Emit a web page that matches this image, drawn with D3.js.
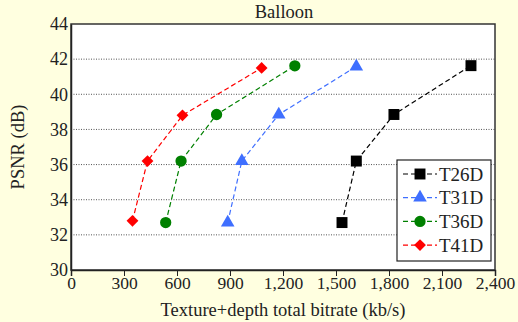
<!doctype html>
<html lang="en">
<head>
<meta charset="UTF-8">
<title>Balloon</title>
<script src="https://d3js.org/d3.v7.min.js"></script>
<style>
  body { margin: 0; background: #ffffe0; }
  svg { display: block; }
  .grid line { stroke: #555; stroke-dasharray: 1 1.5; }
</style>
</head>
<body>
<svg width="518" height="322"></svg>
<script>
  const series = ['T26D', 'T31D', 'T36D', 'T41D'];
  const colors = ['#000000', '#3f6fff', '#008000', '#ff0000'];
  const markers = [d3.symbolSquare, d3.symbolTriangle, d3.symbolCircle, d3.symbolSquare];
  const bitrate = [
    [1534, 1615, 1828, 2264],
    [887, 967, 1176, 1615],
    [536, 623, 824, 1267],
    [348, 433, 631, 1079]
  ];
  const psnr = [
    [32.7, 36.2, 38.85, 41.63],
    [32.7, 36.2, 38.85, 41.58],
    [32.7, 36.2, 38.85, 41.62],
    [32.8, 36.2, 38.8, 41.5]
  ];
  const xTicks = [0, 300, 600, 900, 1200, 1500, 1800, 2100, 2400];
  const yTicks = [30, 32, 34, 36, 38, 40, 42, 44];

  const serif = '"Liberation Serif", "Times New Roman", serif';
  const svg = d3.select('svg');
  const plotL = 71, plotR = 495, plotT = 24, plotB = 270;

  const x = d3.scaleLinear().domain([0, 2400]).range([plotL, plotR]);
  const y = d3.scaleLinear().domain([30, 44]).range([plotB, plotT]);

  svg.append('rect')
    .attr('x', plotL).attr('y', plotT)
    .attr('width', plotR - plotL).attr('height', plotB - plotT)
    .attr('fill', '#fff');

  // dotted grid
  svg.append('g').attr('class', 'grid')
    .selectAll('line')
    .data(yTicks.filter(t => t > 30 && t < 44))
    .enter().append('line')
    .attr('x1', plotL).attr('x2', plotR)
    .attr('y1', d => y(d)).attr('y2', d => y(d));

  // frame
  svg.append('rect')
    .attr('x', plotL).attr('y', plotT)
    .attr('width', plotR - plotL).attr('height', plotB - plotT)
    .attr('fill', 'none').attr('stroke', '#333').attr('stroke-width', 1.5);

  const xAxis = svg.append('g')
    .attr('transform', `translate(0, ${plotB})`)
    .call(d3.axisBottom(x).tickValues(xTicks).tickSize(6).tickPadding(1)
      .tickFormat(d3.format(',')));
  xAxis.attr('font-family', serif).attr('font-size', 17.5);
  xAxis.select('.domain').attr('stroke', '#222').attr('stroke-width', 1.5);
  xAxis.selectAll('line').attr('stroke', '#222');
  xAxis.selectAll('text').attr('fill', '#222');

  const yAxis = svg.append('g')
    .attr('transform', `translate(${plotL}, 0)`)
    .call(d3.axisLeft(y).tickValues(yTicks).tickSize(0).tickPadding(3));
  yAxis.attr('font-family', serif).attr('font-size', 18);
  yAxis.select('.domain').attr('stroke', '#222').attr('stroke-width', 1.5);
  yAxis.selectAll('text').attr('fill', '#222');

  svg.append('text')
    .attr('x', (plotL + plotR) / 2 + 1).attr('y', 18)
    .attr('text-anchor', 'middle').attr('font-size', 18.5)
    .attr('font-family', serif).attr('fill', '#222')
    .text('Balloon');

  svg.append('text')
    .attr('x', (plotL + plotR) / 2).attr('y', 316)
    .attr('text-anchor', 'middle').attr('font-size', 18.5)
    .attr('font-family', serif).attr('fill', '#222')
    .text('Texture+depth total bitrate (kb/s)');

  svg.append('text')
    .attr('transform', `translate(24, ${(plotT + plotB) / 2}) rotate(-90)`)
    .attr('text-anchor', 'middle').attr('font-size', 18.5)
    .attr('font-family', serif).attr('fill', '#222')
    .text('PSNR (dB)');

  const line = d3.line().x(d => x(d[0])).y(d => y(d[1]));
  const sizes = [120, 80, 100, 70];
  const rot = [0, 0, 0, 45];

  series.forEach((name, i) => {
    const pts = bitrate[i].map((b, j) => [b, psnr[i][j]]);
    svg.append('path')
      .datum(pts)
      .attr('d', line)
      .attr('fill', 'none')
      .attr('stroke', colors[i])
      .attr('stroke-width', 1.2)
      .attr('stroke-dasharray', '5 3');
    svg.append('g').selectAll('path')
      .data(pts)
      .enter().append('path')
      .attr('transform', d => `translate(${x(d[0])}, ${y(d[1])}) rotate(${rot[i]})`)
      .attr('d', d3.symbol().type(markers[i]).size(sizes[i]))
      .attr('fill', colors[i]);
  });

  // legend
  const lg = svg.append('g');
  lg.append('rect')
    .attr('x', 397).attr('y', 160).attr('width', 94).attr('height', 101)
    .attr('fill', '#fff').attr('stroke', '#222').attr('stroke-width', 1.2);
  series.forEach((name, i) => {
    const ly = 174 + i * 23.7;
    lg.append('line')
      .attr('x1', 403).attr('x2', 437).attr('y1', ly).attr('y2', ly)
      .attr('stroke', colors[i]).attr('stroke-width', 1.2)
      .attr('stroke-dasharray', '5 3');
    lg.append('path')
      .attr('transform', `translate(420, ${ly}) rotate(${rot[i]})`)
      .attr('d', d3.symbol().type(markers[i]).size(sizes[i]))
      .attr('fill', colors[i]);
    lg.append('text')
      .attr('x', 439).attr('y', ly + 6.5)
      .attr('font-size', 19).attr('font-family', serif).attr('fill', '#222')
      .text(name);
  });
</script>
</body>
</html>
